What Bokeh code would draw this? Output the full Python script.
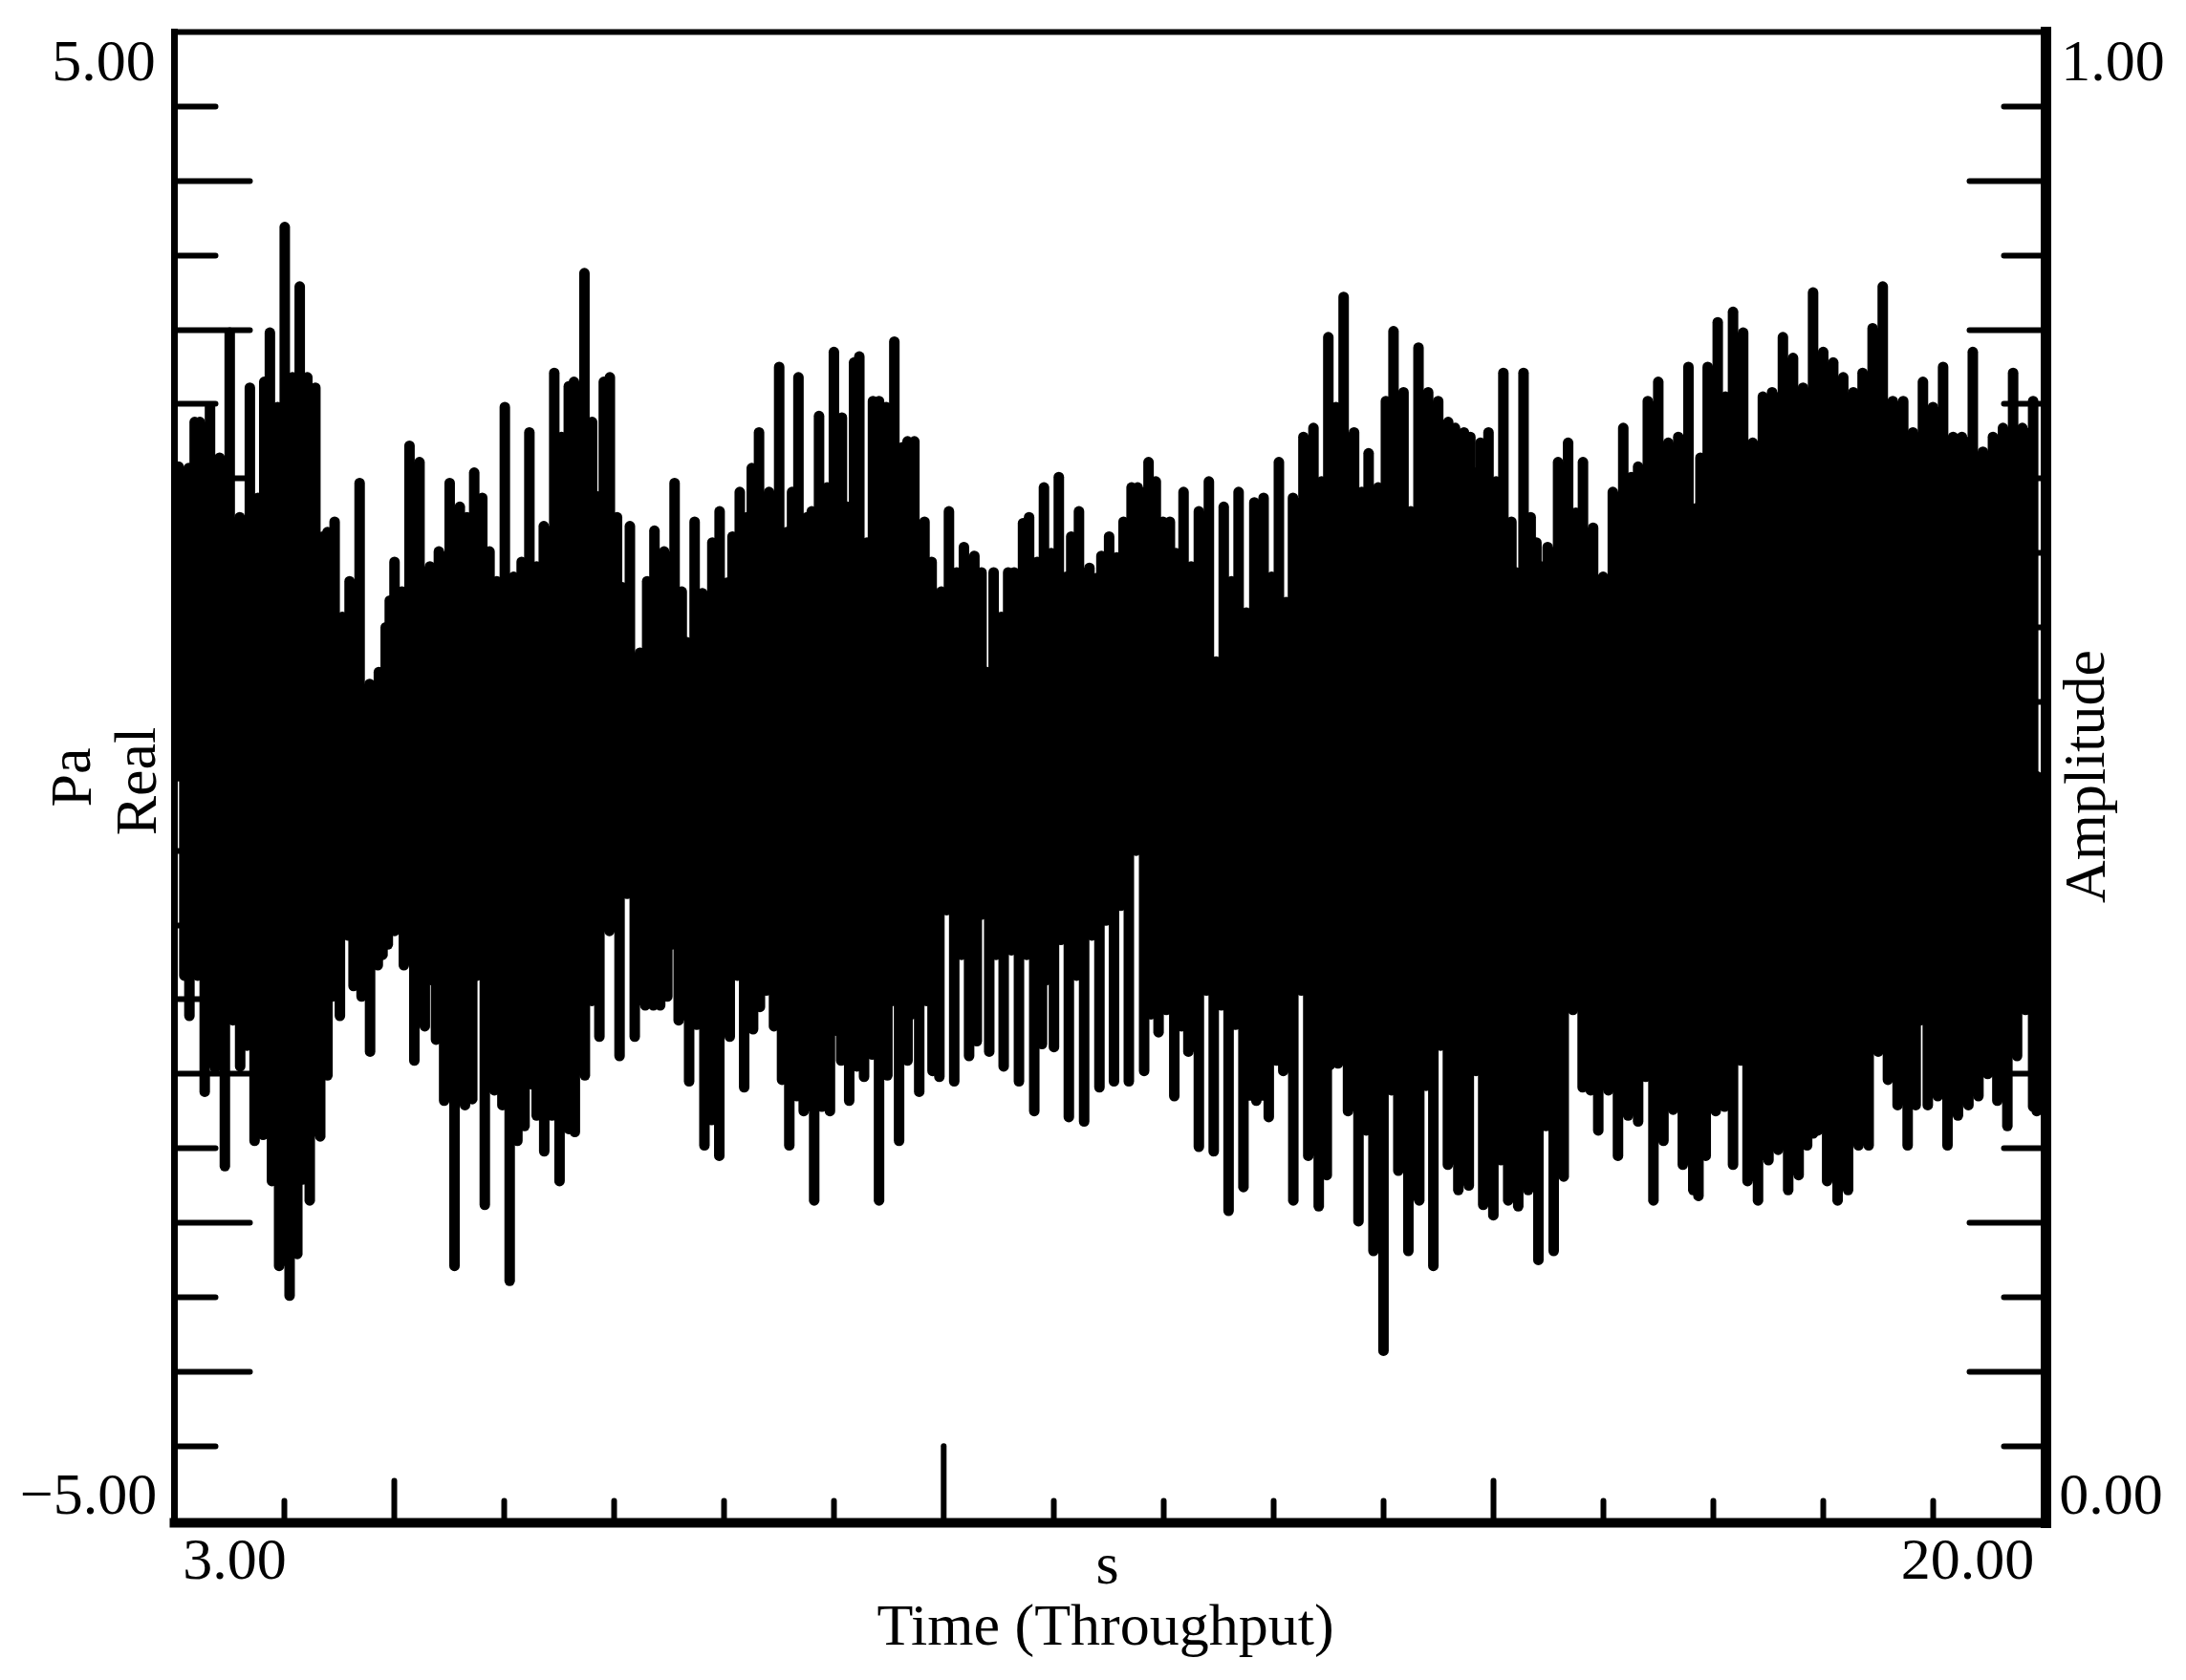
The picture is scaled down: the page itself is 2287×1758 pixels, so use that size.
from bokeh.plotting import figure
from bokeh.models import Range1d, LinearAxis, FixedTicker, CustomLabelingPolicy
from bokeh.core.properties import value
from bokeh.embed import file_html
from bokeh.resources import INLINE
import numpy as np

# Upper envelope of the signal
t_upper = [3.038,3.129,3.184,3.231,3.323,3.410,3.502,3.593,3.685,3.758,3.816,3.867,3.937,4.002,4.072,4.138,4.207,4.280,4.346,4.390,4.455,4.525,4.591,4.682,4.773,4.857,4.919,4.956,4.999,5.066,5.135,5.226,5.321,5.402,5.500,5.592,5.657,5.723,5.796,5.862,5.928,6.001,6.081,6.154,6.224,6.290,6.355,6.450,6.516,6.582,6.629,6.724,6.794,6.845,6.900,6.955,7.020,7.068,7.137,7.229,7.294,7.360,7.448,7.543,7.608,7.656,7.725,7.795,7.835,7.886,7.952,8.018,8.069,8.135,8.200,8.244,8.310,8.401,8.493,8.562,8.610,8.668,
8.746,8.789,8.855,8.928,8.990,9.063,9.111,9.173,9.221,9.290,9.345,9.400,9.465,9.539,9.612,9.659,9.721,9.813,9.878,9.926,9.966,10.035,10.105,10.171,10.266,10.331,10.379,10.441,10.511,10.573,10.627,10.708,10.763,10.836,10.898,10.964,11.033,11.102,11.146,11.216,11.311,11.373,11.420,11.490,11.559,11.621,11.694,11.749,11.848,11.914,11.979,12.042,12.096,12.166,12.235,12.305,12.396,12.462,12.531,12.601,12.666,12.736,12.809,12.893,12.966,13.032,13.098,13.160,13.255,13.346,13.419,13.481,13.551,13.620,13.715,13.785,13.847,13.934,14.004,14.073,14.164,14.230,14.300,
14.388,14.479,14.570,14.632,14.713,14.771,14.822,14.863,14.936,15.005,15.071,15.144,15.188,15.254,15.319,15.371,15.414,15.473,15.568,15.659,15.729,15.794,15.886,15.977,16.065,16.160,16.233,16.295,16.383,16.478,16.569,16.660,16.752,16.818,16.861,16.927,17.018,17.088,17.157,17.249,17.336,17.428,17.512,17.610,17.702,17.793,17.884,17.976,18.067,18.158,18.250,18.334,18.425,18.517,18.608,18.703,18.791,18.882,18.973,19.065,19.156,19.236,19.335,19.427,19.518,19.609,19.701,19.785,19.883]
v_upper = [2.08,2.07,2.38,2.38,2.48,2.14,2.98,1.74,2.61,1.87,2.65,2.98,2.48,3.69,2.68,3.29,2.68,2.61,1.61,1.64,1.71,1.07,1.31,1.97,0.62,0.70,1.00,1.18,1.44,1.24,2.22,2.11,1.41,1.51,1.97,1.81,1.74,2.04,1.87,1.51,1.31,2.48,1.34,1.44,2.31,1.41,1.68,2.71,2.28,2.62,2.65,3.38,2.38,1.88,2.65,2.68,1.74,1.27,1.68,0.83,1.31,1.65,1.51,1.97,1.24,0.90,1.71,1.23,0.70,1.57,1.78,1.30,1.61,1.91,1.74,2.07,2.31,1.91,2.75,1.64,1.91,2.68,
1.74,1.78,2.42,1.94,2.85,2.41,1.81,2.78,2.82,1.57,2.52,2.52,2.48,2.92,2.21,2.25,2.25,1.71,1.44,0.60,1.24,1.78,1.37,1.54,1.48,1.37,0.70,1.37,1.07,1.37,1.37,1.70,1.74,1.44,1.94,1.50,2.01,1.34,1.61,1.78,1.40,1.33,1.48,1.61,1.47,1.71,1.94,1.94,2.11,1.98,1.71,1.71,1.50,1.91,1.41,1.78,1.98,0.77,1.81,1.31,1.91,1.10,1.84,1.87,1.34,2.11,1.17,1.87,2.28,2.34,1.98,2.95,2.48,3.22,2.31,1.91,2.17,1.94,2.52,2.99,2.58,1.78,2.88,
2.58,2.52,2.38,2.34,2.31,2.28,2.04,2.24,2.31,1.98,2.71,1.71,1.37,2.71,1.74,1.57,1.41,1.54,2.11,2.24,1.77,2.11,1.67,1.34,1.91,2.34,2.01,2.08,2.52,2.65,2.24,2.28,2.75,1.80,2.14,2.75,3.05,2.55,3.12,2.98,2.24,2.55,2.58,2.95,2.81,2.61,3.25,2.85,2.78,2.68,2.58,2.71,3.01,3.29,2.52,2.52,2.31,2.65,2.48,2.75,2.28,2.28,2.85,2.18,2.28,2.34,2.71,2.34,2.52]

# Lower envelope of the signal
t_lower = [3.090,3.136,3.210,3.275,3.370,3.458,3.531,3.597,3.659,3.728,3.805,3.842,3.886,3.951,4.046,4.116,4.163,4.229,4.324,4.390,4.434,4.503,4.576,4.627,4.700,4.777,4.847,4.890,4.938,5.000,5.084,5.179,5.274,5.340,5.376,5.450,5.544,5.639,5.705,5.749,5.819,5.906,5.979,6.045,6.115,6.180,6.246,6.290,6.359,6.429,6.498,6.582,6.637,6.728,6.791,6.860,6.951,7.043,7.112,7.181,7.276,7.350,7.412,7.477,7.518,7.580,7.675,7.744,7.814,7.879,7.949,8.044,8.113,8.175,8.256,8.318,8.376,8.446,8.519,8.585,8.654,
8.716,8.811,8.881,8.954,9.012,9.056,9.129,9.199,9.264,9.338,9.400,9.476,9.520,9.582,9.659,9.696,9.765,9.831,9.886,9.948,10.014,10.083,10.149,10.218,10.288,10.331,10.401,10.463,10.532,10.602,10.671,10.741,10.810,10.880,10.920,10.989,11.051,11.124,11.194,11.263,11.333,11.402,11.461,11.534,11.596,11.669,11.735,11.808,11.870,11.939,12.009,12.082,12.147,12.210,12.305,12.374,12.440,12.509,12.575,12.637,12.710,12.827,12.940,13.010,13.072,13.163,13.236,13.299,13.394,13.467,13.496,13.569,13.660,13.755,13.825,13.891,13.982,14.055,14.117,14.208,14.307,
14.369,14.435,14.501,14.567,14.662,14.757,14.822,14.888,14.980,15.049,15.115,15.206,15.297,15.389,15.458,15.528,15.619,15.703,15.791,15.864,15.933,16.025,16.112,16.204,16.295,16.364,16.434,16.525,16.613,16.701,16.796,16.843,16.909,17.000,17.080,17.157,17.227,17.289,17.384,17.479,17.567,17.658,17.753,17.830,17.885,17.928,18.012,18.107,18.202,18.297,18.389,18.476,18.564,18.652,18.743,18.816,18.860,18.926,19.017,19.105,19.200,19.295,19.386,19.470,19.558,19.649,19.737,19.814,19.883,19.916]
v_lower = [-1.34,-1.61,-1.34,-2.12,-1.96,-2.62,-1.64,-1.95,-1.81,-2.45,-2.41,-1.87,-2.72,-3.29,-3.49,-3.21,-2.71,-2.85,-2.42,-2.01,-1.48,-1.61,-1.07,-1.41,-1.48,-1.85,-1.27,-1.20,-1.13,-1.04,-1.27,-1.91,-1.68,-1.37,-1.77,-2.18,-3.29,-2.21,-2.17,-1.34,-2.88,-2.11,-2.21,-3.39,-2.45,-2.35,-2.07,-2.28,-2.52,-2.28,-2.72,-2.37,-2.39,-2.01,-1.51,-1.75,-1.04,-1.88,-0.79,-1.75,-1.54,-1.54,-1.54,-1.48,-1.13,-1.64,-2.05,-1.67,-2.48,-2.31,-2.55,-1.75,-1.34,-2.09,-1.70,-1.55,-1.44,-1.68,-2.04,-2.48,-2.15,
-2.25,-2.85,-2.22,-2.25,-1.71,-1.91,-2.18,-1.95,-2.02,-1.87,-2.85,-2.01,-1.51,-2.45,-1.91,-1.60,-2.12,-1.51,-1.98,-2.02,-0.90,-2.05,-1.20,-1.88,-1.78,-0.93,-1.85,-1.20,-1.95,-1.17,-2.05,-1.20,-2.25,-1.80,-1.37,-1.82,-1.10,-2.29,-1.34,-2.32,-1.07,-2.09,-0.97,-2.05,-0.87,-2.05,-0.50,-1.98,-1.60,-1.72,-1.57,-2.15,-1.68,-1.85,-2.49,-1.44,-2.52,-1.54,-2.92,-1.67,-2.76,-2.18,-2.29,-1.91,-1.98,-2.85,-1.44,-2.55,-2.89,-2.68,-1.94,-1.93,-2.25,-2.99,-2.38,-3.19,-3.86,-2.11,-2.65,-3.19,-2.85,
-2.08,-3.29,-1.81,-2.61,-2.78,-2.75,-1.98,-2.88,-2.95,-2.58,-2.85,-2.89,-2.78,-3.25,-2.35,-3.19,-2.69,-1.57,-2.09,-2.11,-2.38,-2.11,-2.55,-2.28,-2.32,-2.02,-2.85,-2.45,-2.24,-2.61,-2.78,-2.82,-2.55,-2.25,-2.22,-2.61,-1.91,-2.72,-2.85,-2.58,-2.51,-2.78,-2.68,-2.48,-2.40,-2.38,-2.72,-2.85,-2.78,-2.48,-2.48,-1.85,-2.04,-2.21,-2.48,-2.21,-1.64,-2.21,-2.15,-2.48,-2.28,-2.21,-2.15,-2.00,-2.18,-2.35,-1.88,-1.57,-2.22,-2.25]

x_major = [5, 15]
x_minor = [4, 6, 7, 8, 9, 11, 12, 13, 14, 16, 17, 18, 19]
x_long = [10]
y_major = [-4, -3, -2, -1, 0, 1, 2, 3, 4]
y_minor = [-4.5, -3.5, -2.5, -1.5, -0.5, 0.5, 1.5, 2.5, 3.5, 4.5]

# pixel geometry of the canvas: the plot box sits inside a frame that fills the page
CANVAS_W, CANVAS_H = 2280, 1750
X_PX0, X_PX1 = 182.0, 2136.5      # pixel of x = 3 and of x = 20
BOX_T, BOX_B = 33, 1593
RIGHT_SPINE = 2139.5
X0, X1 = 3.0, 20.0
Y0, Y1 = -5.016, 5.0
FONT = "Liberation Serif"
FS = "62px"
# the time readings above were taken on a 115.18 px/unit grid; the ticks lie 114.97 px/unit apart
T_STRETCH = 115.18 / ((X_PX1 - X_PX0) / (X1 - X0))

def data_x(px):
    return X0 + (px - X_PX0) * (X1 - X0) / (X_PX1 - X_PX0)

def data_y(py):
    return Y1 - (py - BOX_T) * (Y1 - Y0) / (BOX_B - BOX_T)

X_RIGHT = data_x(RIGHT_SPINE)

p = figure(frame_width=CANVAS_W, frame_height=CANVAS_H, output_backend="svg", toolbar_location=None,
           x_range=Range1d(data_x(0), data_x(CANVAS_W)), y_range=Range1d(data_y(CANVAS_H), data_y(0)),
           min_border_left=0, min_border_right=0, min_border_top=0, min_border_bottom=0,
           background_fill_color="white", border_fill_color="white", outline_line_color=None)
p.grid.visible = False

no_labels = CustomLabelingPolicy(code="for (const i of [...indices]) indices.unset(i); return indices")

def style(ax, width, loc, bounds):
    ax.fixed_location = loc
    ax.bounds = bounds
    ax.axis_line_width = width
    ax.axis_line_color = "black"
    ax.axis_line_cap = "square"
    ax.major_label_policy = no_labels
    ax.major_label_standoff = 0
    ax.major_tick_out = 0
    ax.minor_tick_out = 0
    ax.major_tick_line_width = 6
    ax.minor_tick_line_width = 6
    ax.major_tick_line_cap = "round"
    ax.minor_tick_line_cap = "round"
    ax.major_tick_line_color = "black"
    ax.minor_tick_line_color = "black"

xa = p.xaxis[0]
xa.ticker = FixedTicker(ticks=x_major, minor_ticks=x_minor)
style(xa, 10, Y0, (X0, X_RIGHT))
xa.major_tick_in, xa.minor_tick_in = 44, 23

ya = p.yaxis[0]
ya.ticker = FixedTicker(ticks=y_major, minor_ticks=y_minor)
style(ya, 7, X0, (Y0, Y1))
ya.major_tick_in, ya.minor_tick_in = 79, 43

ra = LinearAxis(ticker=FixedTicker(ticks=y_major, minor_ticks=y_minor))
style(ra, 11, X_RIGHT, (Y0, Y1))
ra.major_tick_in, ra.minor_tick_in = 80, 44
p.add_layout(ra, "right")

ta = LinearAxis(ticker=FixedTicker(ticks=[], minor_ticks=[]))
style(ta, 6, Y1, (X0, X_RIGHT))
p.add_layout(ta, "above")

# solid body between neighbouring samples, then the spikes out to both envelopes
tu = X0 + (np.array(t_upper) - X0) * T_STRETCH
tl = X0 + (np.array(t_lower) - X0) * T_STRETCH
vu, vl = np.array(v_upper), np.array(v_lower)
p.quad(left=tu[:-1], right=tu[1:], bottom=0, top=np.minimum(vu[:-1], vu[1:]), fill_color="black", line_color=None)
p.quad(left=tl[:-1], right=tl[1:], top=0, bottom=np.maximum(vl[:-1], vl[1:]), fill_color="black", line_color=None)
p.segment(x0=tu, y0=np.zeros(len(tu)), x1=tu, y1=vu, line_color="black", line_width=11, line_cap="round")
p.segment(x0=tl, y0=np.zeros(len(tl)), x1=tl, y1=vl, line_color="black", line_width=11, line_cap="round")
p.segment(x0=x_long, y0=[Y0], x1=x_long, y1=[-4.5], line_color="black", line_width=6, line_cap="round")

def put(text, px, py, angle=0.0):
    p.text(x=[data_x(px)], y=[data_y(py)], text=[text], angle=[angle], text_align="center",
           text_baseline="middle", text_font=value(FONT), text_font_size=value(FS), text_color="black")

put("5.00", 108, 63)
put("\u22125.00", 92, 1563)
put("1.00", 2210, 63)
put("0.00", 2208, 1563)
put("3.00", 245, 1631)
put("20.00", 2058, 1631)
put("s", 1158, 1635)
put("Time (Throughput)", 1156, 1699)
put("Pa", 73, 813, 1.5708)
put("Real", 141, 817, 1.5708)
put("Amplitude", 2180, 812, 1.5708)

open("out.html", "w").write(file_html(p, INLINE))
